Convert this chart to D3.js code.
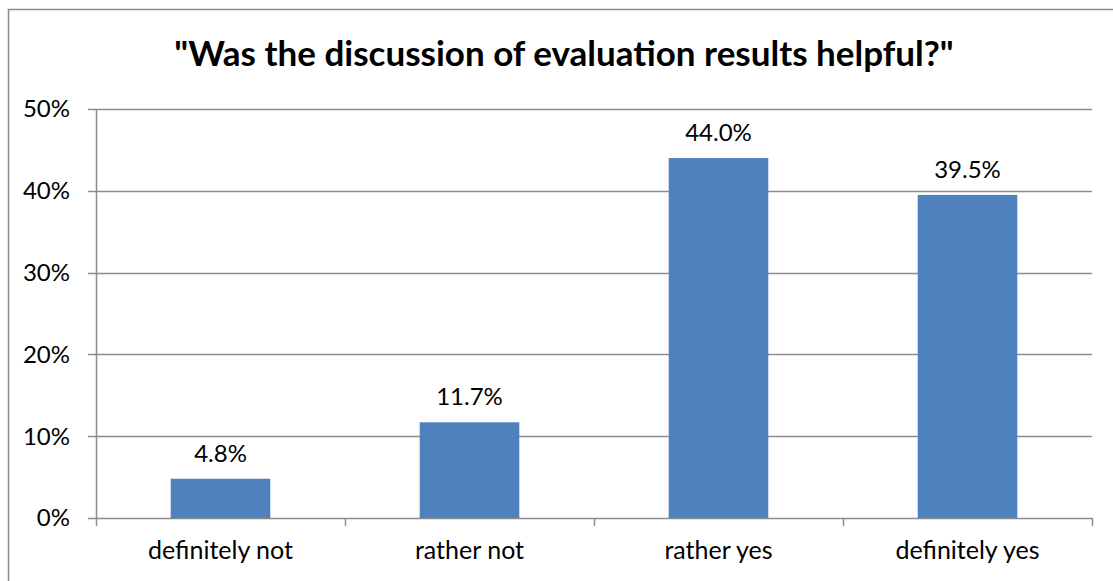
<!DOCTYPE html>
<html>
<head>
<meta charset="utf-8">
<script src="https://cdn.jsdelivr.net/npm/d3@7"></script>
<style>
  body { margin: 0; background: #fff; }
  svg text { font-family: Lato, "Open Sans", sans-serif; fill: #000; }
</style>
</head>
<body>
<div id="chart"></div>
<script>
const categories = ["definitely not", "rather not", "rather yes", "definitely yes"];
const values = [0.048, 0.117, 0.44, 0.395];
const yTicks = [0, 0.1, 0.2, 0.3, 0.4, 0.5];
const title = "\"Was the discussion of evaluation results helpful?\"";

const W = 1113, H = 581;
const margin = {top: 109, right: 21, bottom: 63, left: 96};
const width = W - margin.left - margin.right;
const height = H - margin.top - margin.bottom;

const svg = d3.select("#chart").append("svg")
    .attr("width", W)
    .attr("height", H);

// chart frame
svg.append("rect")
    .attr("x", 8.5).attr("y", 9.5)
    .attr("width", W + 10).attr("height", H + 10)
    .attr("fill", "none")
    .attr("stroke", "#8c8c8c")
    .attr("stroke-width", 1.5);

svg.append("text")
    .attr("x", 564)
    .attr("y", 66)
    .attr("text-anchor", "middle")
    .style("font-size", "35px")
    .style("font-weight", "bold")
    .text(title);

const g = svg.append("g")
    .attr("transform", `translate(${margin.left}, ${margin.top})`);

const x = d3.scaleBand()
    .domain(categories)
    .range([0, width])
    .paddingInner(0.6)
    .paddingOuter(0.3);

const y = d3.scaleLinear()
    .domain([0, 0.5])
    .range([height, 0]);

// gridlines
g.append("g")
    .selectAll("line")
    .data(yTicks)
    .enter()
    .append("line")
    .attr("x1", -8)
    .attr("x2", width)
    .attr("y1", d => Math.round(y(d)) + 0.5)
    .attr("y2", d => Math.round(y(d)) + 0.5)
    .attr("stroke", "#8c8c8c")
    .attr("stroke-width", 1.5);

// y axis line
g.append("line")
    .attr("x1", 0.5).attr("x2", 0.5)
    .attr("y1", 0).attr("y2", height)
    .attr("stroke", "#8c8c8c")
    .attr("stroke-width", 1.5);

g.append("g")
    .selectAll("text")
    .data(yTicks)
    .enter()
    .append("text")
    .attr("x", -26)
    .attr("y", d => y(d))
    .attr("dy", "0.35em")
    .attr("text-anchor", "end")
    .style("font-size", "24px")
    .text(d => d3.format(".0%")(d));

// category boundary ticks
const step = x.step();
const bounds = d3.range(categories.length + 1).map(i => i * step);
g.append("g")
    .selectAll("line")
    .data(bounds)
    .enter()
    .append("line")
    .attr("x1", d => Math.round(d) + 0.5)
    .attr("x2", d => Math.round(d) + 0.5)
    .attr("y1", height)
    .attr("y2", height + 8)
    .attr("stroke", "#8c8c8c")
    .attr("stroke-width", 1.5);

g.selectAll(".bar")
    .data(values)
    .enter()
    .append("rect")
    .attr("class", "bar")
    .attr("x", (d, i) => x(categories[i]))
    .attr("y", d => y(d))
    .attr("width", x.bandwidth())
    .attr("height", d => height - y(d))
    .attr("fill", "#4f81bd");

g.selectAll(".val")
    .data(values)
    .enter()
    .append("text")
    .attr("class", "val")
    .attr("x", (d, i) => x(categories[i]) + x.bandwidth() / 2)
    .attr("y", d => y(d) - 17)
    .attr("text-anchor", "middle")
    .style("font-size", "24px")
    .text(d => d3.format(".1%")(d));

g.selectAll(".cat")
    .data(categories)
    .enter()
    .append("text")
    .attr("class", "cat")
    .attr("x", d => x(d) + x.bandwidth() / 2)
    .attr("y", height + 41)
    .attr("text-anchor", "middle")
    .style("font-size", "25px")
    .text(d => d);
</script>
</body>
</html>
